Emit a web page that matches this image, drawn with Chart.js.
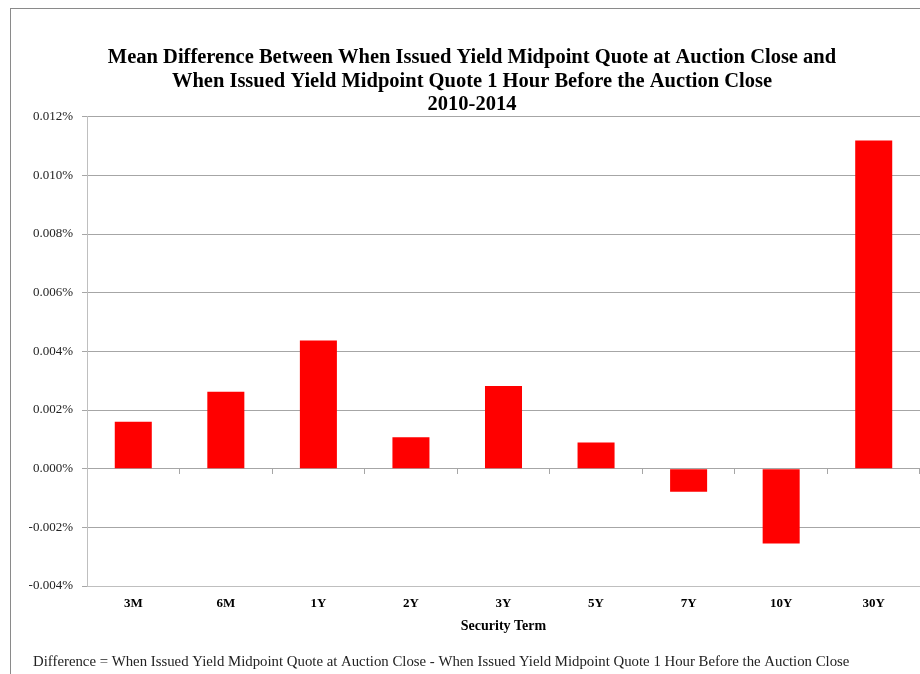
<!DOCTYPE html>
<html>
<head>
<meta charset="utf-8">
<title>Mean Difference in When Issued Yield Midpoint Quotes</title>
<script src="https://cdn.jsdelivr.net/npm/chart.js@4.4.1/dist/chart.umd.min.js"></script>
<style>
  html, body { margin: 0; padding: 0; background: #fff; overflow: hidden; }
  canvas { display: block; }
</style>
</head>
<body>
<canvas id="termChart" width="920" height="674"></canvas>
<script>
// security terms on the x axis
const terms = ["3M", "6M", "1Y", "2Y", "3Y", "5Y", "7Y", "10Y", "30Y"];
// mean difference, in percent
const meanDiff = [0.0016, 0.00262, 0.00437, 0.00107, 0.00282, 0.00089, -0.00079, -0.00255, 0.01119];

const titleLines = [
  "Mean Difference Between When Issued Yield Midpoint Quote at Auction Close and",
  "When Issued Yield Midpoint Quote 1 Hour Before the Auction Close",
  "2010-2014"
];
const axisTitle = "Security Term";
const footNote = "Difference = When Issued Yield Midpoint Quote at Auction Close - When Issued Yield Midpoint Quote 1 Hour Before the Auction Close";

Chart.defaults.font.family = '"Liberation Serif", "Times New Roman", serif';
Chart.defaults.color = "#222";

// white page, grey frame and the footnote under the plot
const framePlugin = {
  id: "frame",
  beforeDraw(chart) {
    const ctx = chart.ctx;
    ctx.save();
    ctx.fillStyle = "#fff";
    ctx.fillRect(0, 0, chart.width, chart.height);
    ctx.strokeStyle = "#8a8a8a";
    ctx.lineWidth = 1;
    ctx.strokeRect(10.5, 8.5, chart.width + 50, chart.height + 50);
    ctx.restore();
  },
  afterDraw(chart) {
    const ctx = chart.ctx;
    ctx.save();
    ctx.fillStyle = "#222";
    ctx.font = '14.8px "Liberation Serif", serif';
    ctx.textBaseline = "middle";
    ctx.textAlign = "left";
    ctx.fillText(footNote, 33, 662);
    ctx.restore();
  }
};

new Chart(document.getElementById("termChart"), {
  type: "bar",
  data: {
    labels: terms,
    datasets: [{
      data: meanDiff,
      backgroundColor: "#ff0000",
      borderWidth: 0,
      categoryPercentage: 1,
      barPercentage: 0.4,
      xAxisID: "x",
      yAxisID: "y"
    }]
  },
  options: {
    responsive: false,
    animation: false,
    layout: { padding: { left: 24, right: 0, top: 0, bottom: 39 } },
    plugins: {
      legend: { display: false },
      tooltip: { enabled: false },
      title: {
        display: true,
        text: titleLines,
        color: "#000",
        font: { size: 20.5, weight: "bold", lineHeight: 1.15 },
        padding: { top: 46, bottom: 0 }
      }
    },
    scales: {
      x: {
        type: "category",
        position: "bottom",
        offset: true,
        afterFit(scale) { scale.height = 49; },
        grid: { display: false, drawTicks: false },
        border: { display: true, color: "#bfbfbf" },
        ticks: { padding: 10, color: "#000", font: { size: 13, weight: "bold" } },
        title: {
          display: true,
          text: axisTitle,
          color: "#000",
          font: { size: 14, weight: "bold" },
          padding: { top: 4, bottom: 0 }
        }
      },
      // horizontal axis line crossing at zero, with tick marks between terms
      x0: {
        type: "category",
        axis: "x",
        labels: terms,
        position: { y: 0 },
        offset: true,
        ticks: { display: false },
        grid: { offset: true, drawOnChartArea: false, drawTicks: true, tickLength: 5, color: "#a6a6a6" },
        border: { display: true, color: "#a6a6a6" }
      },
      y: {
        min: -0.004,
        max: 0.012,
        afterFit(scale) { scale.width = 63; },
        grid: { color: "#a6a6a6", tickLength: 5 },
        border: { display: true, color: "#bfbfbf" },
        ticks: {
          stepSize: 0.002,
          padding: 9,
          color: "#222",
          font: { size: 13 },
          callback: (v) => v.toFixed(3) + "%"
        }
      }
    }
  },
  plugins: [framePlugin]
});
</script>
</body>
</html>
